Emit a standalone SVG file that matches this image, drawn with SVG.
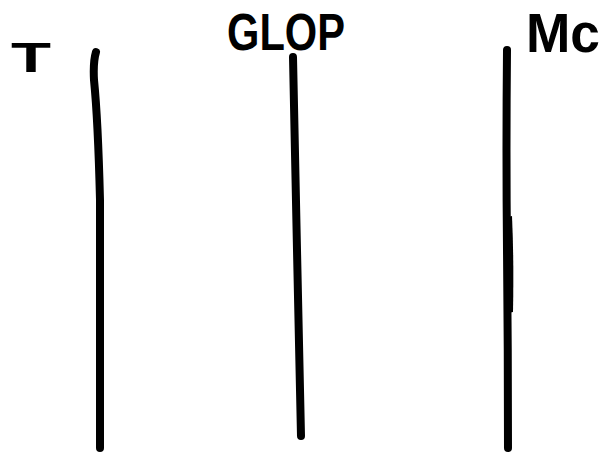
<svg xmlns="http://www.w3.org/2000/svg" width="603" height="455" viewBox="0 0 603 455">
<style>
.lbl{font-family:"Liberation Sans","DejaVu Sans",sans-serif;font-weight:bold;fill:#000}
.life{fill:none;stroke:#000;stroke-width:8;stroke-linecap:round;stroke-linejoin:round}
</style>
<rect width="603" height="455" fill="#fff"/>
<g id="node-T">
<text class="lbl" x="31" y="72" font-size="42" text-anchor="middle" textLength="40" lengthAdjust="spacingAndGlyphs">T</text>
<path class="life" d="M96,52 Q93,62 94,80 Q98,120 100,200 Q100,330 100,448"/>
</g>
<g id="node-GLOP">
<text class="lbl" x="286" y="50" font-size="52" text-anchor="middle" textLength="118" lengthAdjust="spacingAndGlyphs">GLOP</text>
<path class="life" d="M293,57 Q295,150 297,250 Q299,350 301,436"/>
</g>
<g id="node-Mc">
<text class="lbl" x="563" y="52" font-size="56" text-anchor="middle" textLength="74" lengthAdjust="spacingAndGlyphs">Mc</text>
<path class="life" d="M507,50 Q506,150 507,250 Q508,350 508,448"/>
<path d="M503,218 L512,216 Q514,260 513,312 L508,313 Q504,270 503,218 Z" fill="#000"/>
</g>
<g id="connectors"></g>
</svg>
